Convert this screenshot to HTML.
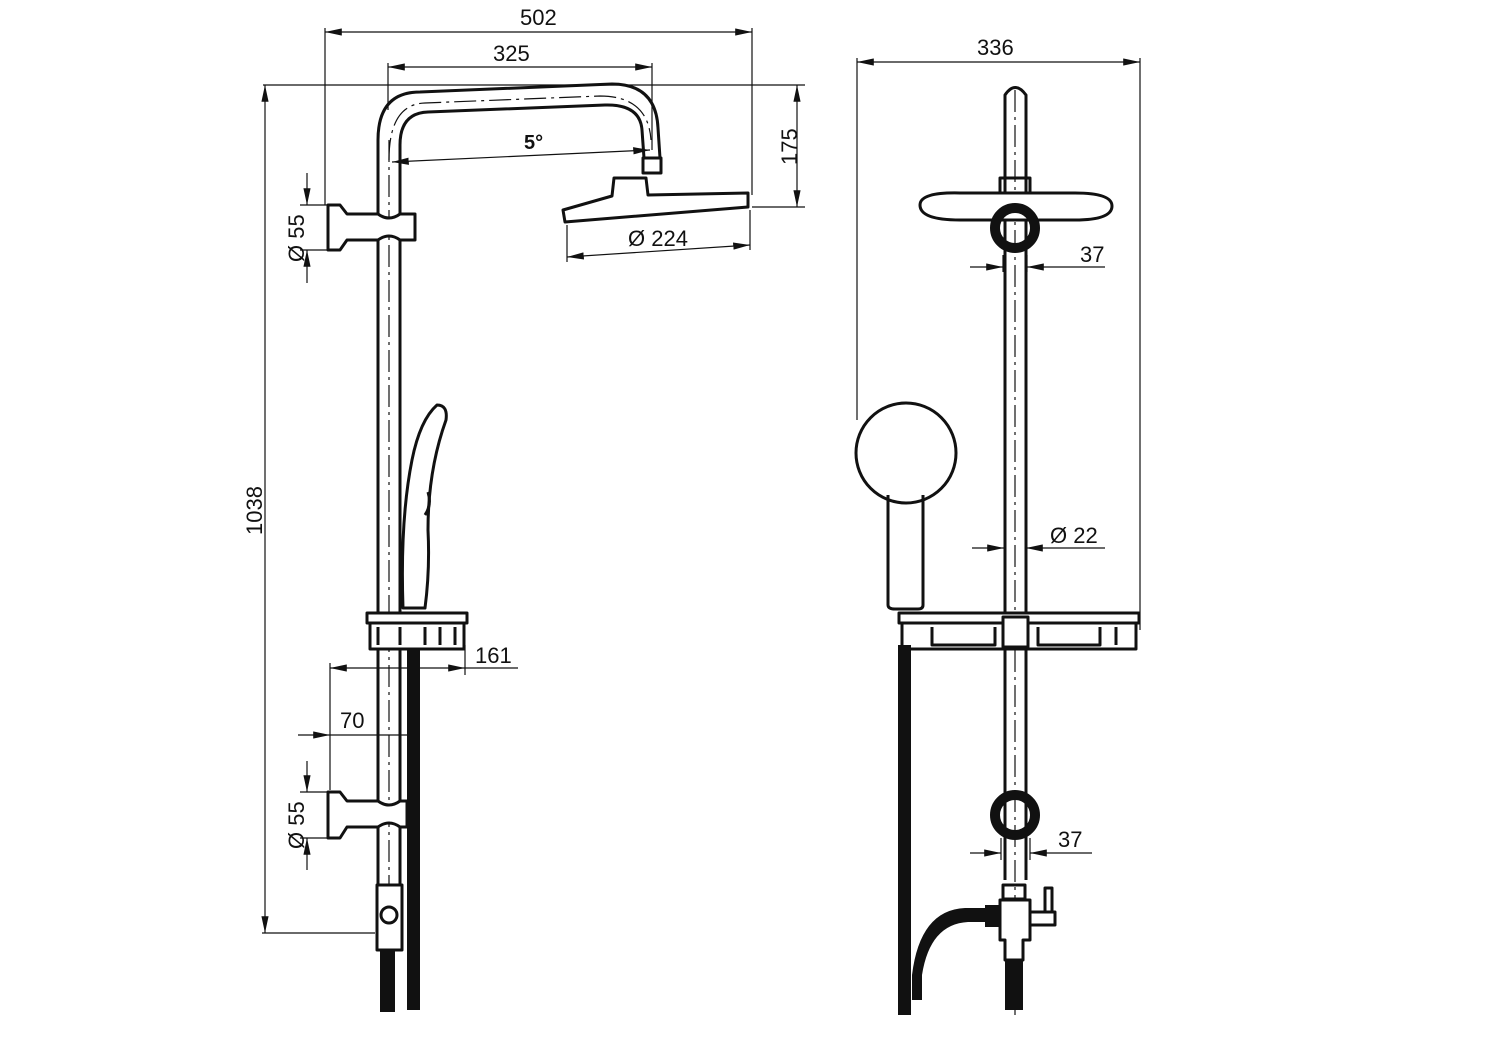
<!DOCTYPE html>
<html><head><style>html,body{margin:0;padding:0;background:#fff}svg{display:block}text{font-family:"Liberation Sans",sans-serif;font-size:22px;fill:#111}</style></head><body>
<svg width="1497" height="1058" viewBox="0 0 1497 1058" xmlns="http://www.w3.org/2000/svg">
<defs>
<marker id="a" viewBox="0 0 14 6" refX="14" refY="3" markerWidth="14" markerHeight="6" orient="auto-start-reverse"><path d="M0,0L14,3L0,6z" fill="#111"/></marker>
</defs>
<g stroke="#111" stroke-width="1.2" fill="none">
<line x1="325" y1="32" x2="752" y2="32" marker-start="url(#a)" marker-end="url(#a)"/>
<line x1="325" y1="28" x2="325" y2="205"/><line x1="752" y1="28" x2="752" y2="195"/>
<line x1="388" y1="67" x2="652" y2="67" marker-start="url(#a)" marker-end="url(#a)"/>
<line x1="388" y1="63" x2="388" y2="110"/><line x1="652" y1="63" x2="652" y2="150"/>
<line x1="263" y1="85" x2="805" y2="85"/><line x1="752" y1="207" x2="805" y2="207"/>
<line x1="797" y1="85" x2="797" y2="207" marker-start="url(#a)" marker-end="url(#a)"/>
<line x1="265" y1="85" x2="265" y2="933" marker-start="url(#a)" marker-end="url(#a)"/>
<line x1="262" y1="933" x2="375" y2="933"/>
<line x1="392" y1="162" x2="650" y2="150" marker-start="url(#a)" marker-end="url(#a)"/>
<line x1="567" y1="257" x2="750" y2="245" marker-start="url(#a)" marker-end="url(#a)"/>
<line x1="567" y1="225" x2="567" y2="262"/><line x1="750" y1="210" x2="750" y2="250"/>
<line x1="307" y1="173" x2="307" y2="205" marker-end="url(#a)"/><line x1="307" y1="283" x2="307" y2="250" marker-end="url(#a)"/>
<line x1="300" y1="205" x2="328" y2="205"/><line x1="300" y1="250" x2="328" y2="250"/>
<line x1="307" y1="761" x2="307" y2="792" marker-end="url(#a)"/><line x1="307" y1="870" x2="307" y2="838" marker-end="url(#a)"/>
<line x1="300" y1="792" x2="328" y2="792"/><line x1="300" y1="838" x2="328" y2="838"/>
<line x1="330" y1="668" x2="465" y2="668" marker-start="url(#a)" marker-end="url(#a)"/><line x1="465" y1="668" x2="518" y2="668"/>
<line x1="330" y1="663" x2="330" y2="790"/><line x1="465" y1="645" x2="465" y2="675"/>
<line x1="298" y1="735" x2="330" y2="735" marker-end="url(#a)"/><line x1="330" y1="735" x2="407" y2="735"/>
<line x1="389" y1="140" x2="389" y2="900" stroke-dasharray="22,5,3,5"/>
<path d="M389,160 Q389,104 425,103 L600,96 Q648,96 651,140" stroke-dasharray="22,5,3,5"/>
<line x1="857" y1="62" x2="1140" y2="62" marker-start="url(#a)" marker-end="url(#a)"/>
<line x1="857" y1="58" x2="857" y2="420"/><line x1="1140" y1="58" x2="1140" y2="630"/>
<line x1="970" y1="267" x2="1003" y2="267" marker-end="url(#a)"/><line x1="1105" y1="267" x2="1027" y2="267" marker-end="url(#a)"/>
<line x1="1003" y1="255" x2="1003" y2="272"/><line x1="1027" y1="255" x2="1027" y2="272"/>
<line x1="972" y1="548" x2="1004" y2="548" marker-end="url(#a)"/><line x1="1105" y1="548" x2="1026" y2="548" marker-end="url(#a)"/>
<line x1="970" y1="853" x2="1001" y2="853" marker-end="url(#a)"/><line x1="1092" y1="853" x2="1030" y2="853" marker-end="url(#a)"/>
<line x1="1001" y1="838" x2="1001" y2="860"/><line x1="1030" y1="838" x2="1030" y2="860"/>
<line x1="1015" y1="90" x2="1015" y2="1015" stroke-dasharray="22,5,3,5"/>
</g>
<g stroke="#111" stroke-width="3" fill="none" stroke-linejoin="round">
<path d="M378,885 L378,140 Q378,92 420,92 L612,84 Q656,84 658,128 L660,158"/>
<path d="M400,885 L400,145 Q400,113 428,112 L605,105 Q640,104 642,130 L644,158"/>
<rect x="643" y="158" width="18" height="15" fill="#fff"/>
<path d="M614,178 L646,178 L648,195 L748,193 L748,207 L565,222 L563,210 L612,196 Z" fill="#fff"/>
<path d="M328,205 L340,205 L347,214 L378,214 Q389,222 400,214 L415,214 L415,240 L400,240 Q389,232 378,240 L347,240 L340,250 L328,250 Z" fill="#fff"/>
<path d="M328,792 L340,792 L347,801 L378,801 Q389,809 400,801 L407,801 L407,827 L400,827 Q389,819 378,827 L347,827 L340,838 L328,838 Z" fill="#fff"/>
<path d="M437,405 Q448,405 446,420 Q428,470 428,530 Q430,570 425,608 L403,608 Q400,520 412,460 Q420,420 437,405 Z" fill="#fff"/>
<path d="M428,492 Q432,505 425,515"/>
<rect x="367" y="613" width="100" height="10" fill="#fff"/>
<rect x="370" y="623" width="94" height="26" fill="#fff"/>
<path d="M378,627 V645 M400,627 V645 M425,627 V645 M440,627 V645 M455,627 V645"/>
<rect x="377" y="885" width="25" height="65" fill="#fff"/>
<circle cx="389" cy="915" r="8"/>
<path d="M1005,880 L1005,95 Q1015,80 1026,95 L1026,880"/>
<path d="M920,205 Q920,192 960,193 L1075,193 Q1112,193 1112,206 Q1112,220 1075,220 L960,220 Q920,220 920,205 Z" fill="#fff"/>
<rect x="1000" y="178" width="30" height="15"/>
<circle cx="906" cy="453" r="50" fill="#fff"/>
<path d="M888,495 L888,605 Q888,609 895,609 L918,609 Q923,609 923,605 L923,495"/>
<rect x="899" y="613" width="240" height="10" fill="#fff"/>
<rect x="902" y="623" width="234" height="26" fill="#fff"/>
<path d="M932,627 V645 H995 V627 M1038,627 V645 H1100 V627 M1116,627 V645"/>
<rect x="1003" y="617" width="25" height="30" fill="#fff"/>
<rect x="1003" y="885" width="22" height="14"/>
<path d="M1000,900 L1030,900 L1030,940 L1023,940 L1023,960 L1005,960 L1005,940 L1000,940 Z" fill="#fff"/>
<path d="M1030,912 L1055,912 L1055,925 L1030,925 M1045,912 V888 H1052 V912"/>
</g>
<g fill="#111">
<rect x="407" y="650" width="13" height="360"/>
<rect x="380" y="950" width="15" height="62"/>
<rect x="898" y="645" width="13" height="370"/>
<rect x="1005" y="960" width="18" height="50"/>
<path d="M985,908 L965,908 Q920,910 912,975 L912,1000 L922,1000 L922,975 Q930,924 968,922 L985,922 Z"/>
<rect x="985" y="905" width="15" height="22"/>
</g>
<circle cx="1015" cy="228" r="20" fill="none" stroke="#111" stroke-width="10"/>
<circle cx="1015" cy="815" r="20" fill="none" stroke="#111" stroke-width="10"/>
<text x="520" y="25">502</text>
<text x="493" y="61">325</text>
<text x="524" y="149" style="font-weight:bold;font-size:20px">5°</text>
<text x="628" y="246">Ø 224</text>
<text x="475" y="663">161</text>
<text x="340" y="728">70</text>
<text x="977" y="55">336</text>
<text x="1080" y="262">37</text>
<text x="1050" y="543">Ø 22</text>
<text x="1058" y="847">37</text>
<text transform="translate(797,165) rotate(-90)">175</text>
<text transform="translate(262,535) rotate(-90)">1038</text>
<text transform="translate(304,262) rotate(-90)">Ø 55</text>
<text transform="translate(304,849) rotate(-90)">Ø 55</text>
</svg>
</body></html>
